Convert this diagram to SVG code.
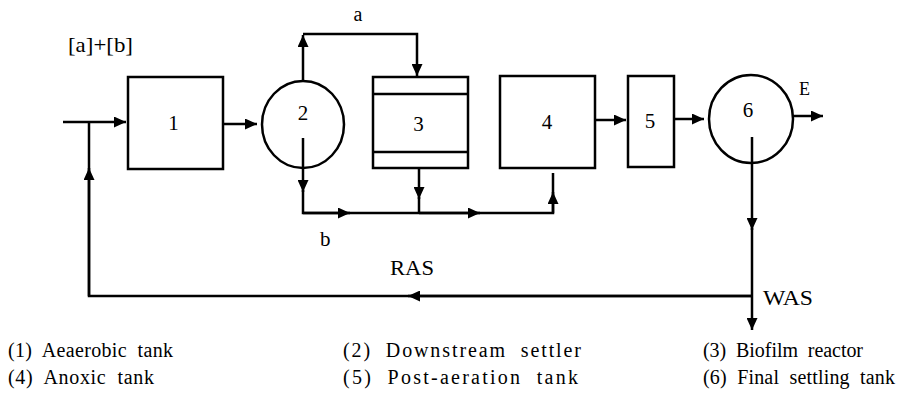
<svg xmlns="http://www.w3.org/2000/svg" width="901" height="394" viewBox="0 0 901 394">
<style>
.s{fill:none;stroke:#000;stroke-width:2.5}
.c{fill:none;stroke:#000;stroke-width:2.5;stroke-linejoin:miter}
text{font-family:'Liberation Serif','Times New Roman','DejaVu Serif',serif;fill:#000}
.n{font-size:21px;text-anchor:middle}
.l{font-size:21px}
.g{font-size:20px}
</style>
<defs>
<marker id="arr" viewBox="0 0 12 11" refX="12" refY="5.5" markerWidth="12" markerHeight="11" markerUnits="userSpaceOnUse" orient="auto">
<path d="M0,0 L12,5.5 L0,11 Z" fill="#000"/>
</marker>
</defs>
<rect width="901" height="394" fill="#fff"/>

<g id="connectors" class="c">
<path d="M63,122 H126" marker-end="url(#arr)"/>
<path d="M752,296 H89 V122"/>
<path d="M752,296 H408" marker-end="url(#arr)"/>
<path d="M89,296 V168" marker-end="url(#arr)"/>
<path d="M223,124 H257" marker-end="url(#arr)"/>
<path d="M303,81 V35" marker-end="url(#arr)"/>
<path d="M303,34 H417 V76" marker-end="url(#arr)"/>
<path d="M303,138 V192" marker-end="url(#arr)"/>
<path d="M303,190 V213 H553 V173"/>
<path d="M303,213 H350" marker-end="url(#arr)"/>
<path d="M419,213 H480" marker-end="url(#arr)"/>
<path d="M553,213 V192" marker-end="url(#arr)"/>
<path d="M419,168 V199" marker-end="url(#arr)"/>
<path d="M419,197 V213"/>
<path d="M595,120 H626" marker-end="url(#arr)"/>
<path d="M674,119 H704" marker-end="url(#arr)"/>
<path d="M793,116 H823" marker-end="url(#arr)"/>
<path d="M752,137 V230" marker-end="url(#arr)"/>
<path d="M752,228 V330" marker-end="url(#arr)"/>
</g>

<g id="node1">
<rect class="s" x="128" y="77" width="95" height="92"/>
<text class="n" x="173.5" y="130">1</text>
</g>
<g id="node2">
<ellipse class="s" cx="303" cy="124.5" rx="41" ry="43.5"/>
<text class="n" x="303" y="120">2</text>
</g>
<g id="node3">
<rect class="s" x="373" y="77" width="95" height="91"/>
<line class="s" x1="373" y1="94" x2="468" y2="94"/>
<line class="s" x1="373" y1="152" x2="468" y2="152"/>
<text class="n" x="418.5" y="131">3</text>
</g>
<g id="node4">
<rect class="s" x="500" y="76" width="95" height="92"/>
<text class="n" x="547" y="129">4</text>
</g>
<g id="node5">
<rect class="s" x="628" y="76" width="46" height="91"/>
<text class="n" x="650" y="128">5</text>
</g>
<g id="node6">
<ellipse class="s" cx="751" cy="119" rx="42" ry="44"/>
<text class="n" x="748" y="117">6</text>
</g>

<g id="labels">
<text class="l" x="68" y="52" textLength="65" lengthAdjust="spacingAndGlyphs">[a]+[b]</text>
<text class="g" x="358" y="21" text-anchor="middle">a</text>
<text class="l" x="320" y="246">b</text>
<text class="l" x="390" y="275" textLength="44" lengthAdjust="spacingAndGlyphs">RAS</text>
<text class="l" x="763" y="305" textLength="50" lengthAdjust="spacingAndGlyphs">WAS</text>
<text style="font-size:18px" x="799" y="95">E</text>
</g>

<g id="legend" class="g">
<text x="8" y="357" textLength="165" lengthAdjust="spacing" xml:space="preserve">(1)  Aeaerobic  tank</text>
<text x="343" y="357" textLength="238" lengthAdjust="spacing" xml:space="preserve">(2)  Downstream  settler</text>
<text x="703" y="357" textLength="160" lengthAdjust="spacing" xml:space="preserve">(3)  Biofilm  reactor</text>
<text x="8" y="384" textLength="146" lengthAdjust="spacing" xml:space="preserve">(4)  Anoxic  tank</text>
<text x="343" y="384" textLength="235" lengthAdjust="spacing" xml:space="preserve">(5)  Post-aeration  tank</text>
<text x="703" y="384" textLength="192" lengthAdjust="spacing" xml:space="preserve">(6)  Final  settling  tank</text>
</g>
</svg>
